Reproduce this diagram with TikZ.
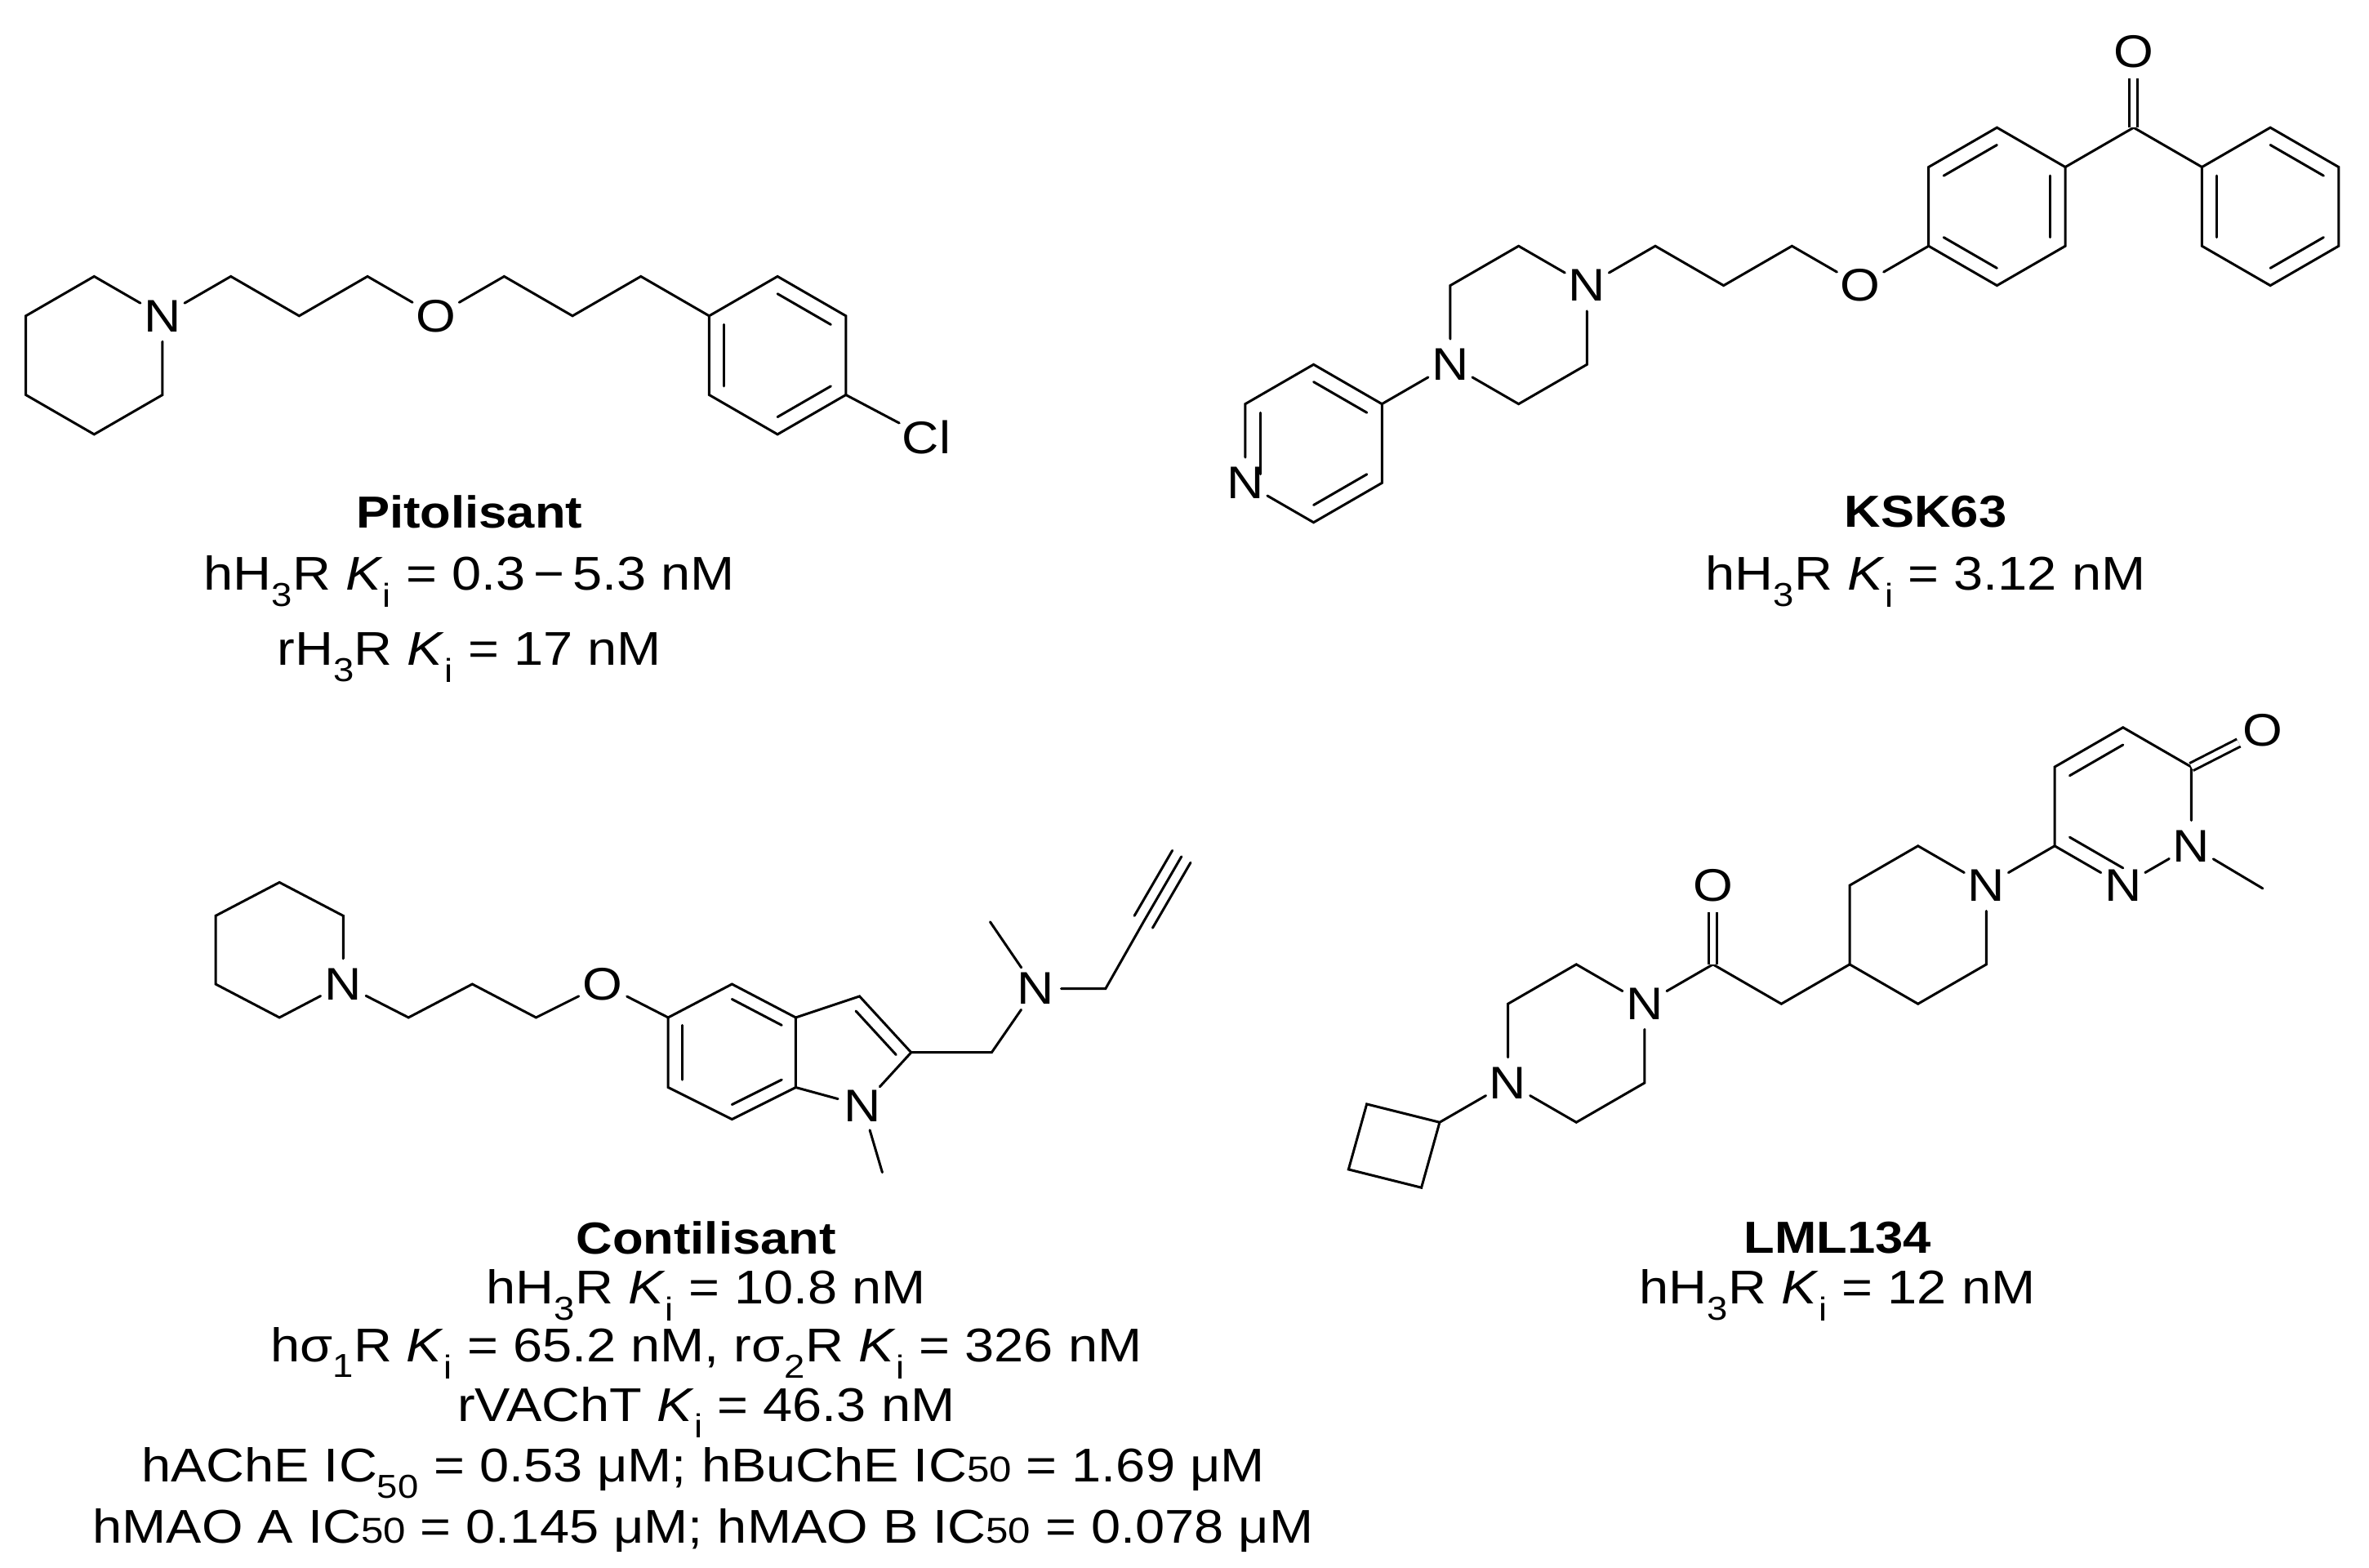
\documentclass[tikz,border=0pt]{standalone}
\usepackage{fontspec}
\setmainfont[FakeStretch=1.12]{Liberation Sans}
\usetikzlibrary{calc}
\tikzset{
  bond/.style={line width=3pt,line cap=round},
  atom/.style={circle,inner sep=1pt,font=\fontsize{56}{64}\selectfont},
  lbl/.style={align=center,font=\fontsize{58}{66}\selectfont},
  ttl/.style={font=\fontsize{55}{64}\selectfont\bfseries},
  dblo/.style={line width=3pt,double distance=7pt}
}
\newcommand\dbl[3]{\draw[bond] ($(#1)!0.22!(#3)$) -- ($(#2)!0.22!(#3)$);}
\newcommand\Ki{\textit{K}\textsubscript{i}}
\newcommand\sm[1]{{\fontsize{44}{50}\selectfont #1}}
\begin{document}
\begin{tikzpicture}[x=1.86pt,y=-1.86pt]
\useasboundingbox (0,0) rectangle (1560,1032);
\fill[white] (0,0) rectangle (1560,1032);
%% Pitolisant
\node[atom] (pN) at (107,208) {N};
\coordinate (p1) at (107,260); \coordinate (p2) at (62,286); \coordinate (p3) at (17,260);
\coordinate (p4) at (17,208); \coordinate (p5) at (62,182);
\coordinate (c1) at (152,182); \coordinate (c2) at (197,208); \coordinate (c3) at (242,182);
\node[atom] (pO) at (287,208) {O};
\coordinate (c4) at (332,182); \coordinate (c5) at (377,208); \coordinate (c6) at (422,182);
\coordinate (r1) at (467,208); \coordinate (r2) at (512,182); \coordinate (r3) at (557,208);
\coordinate (r4) at (557,260); \coordinate (r5) at (512,286); \coordinate (r6) at (467,260);
\coordinate (rc) at (512,234);
\node[atom] (pCl) at (610,288) {Cl};
\draw[bond] (pN) -- (p1) -- (p2) -- (p3) -- (p4) -- (p5) -- (pN);
\draw[bond] (pN) -- (c1) -- (c2) -- (c3) -- (pO) -- (c4) -- (c5) -- (c6) -- (r1);
\draw[bond] (r1) -- (r2) -- (r3) -- (r4) -- (r5) -- (r6) -- cycle;
\draw[bond] (r4) -- (pCl);
\dbl{r2}{r3}{rc} \dbl{r1}{r6}{rc} \dbl{r4}{r5}{rc}
\node[ttl] (tP) at (309,337) {Pitolisant};
\node[lbl] (tP2) at (309,383) {hH\textsubscript{3}R \Ki{} = 0.3\,−\,5.3 nM};
\node[lbl] (tP3) at (309,433) {rH\textsubscript{3}R \Ki{} = 17 nM};
%% KSK63
\node[atom] (kN1) at (1045,188) {N};
\coordinate (k1) at (1045,240); \coordinate (k2) at (1000,266);
\node[atom] (kN4) at (955,240) {N};
\coordinate (k3) at (955,188); \coordinate (k4) at (1000,162);
\coordinate (y1) at (910,266); \coordinate (y2) at (865,240); \coordinate (y3) at (820,266);
\node[atom] (yN) at (820,318) {N};
\coordinate (y5) at (865,344); \coordinate (y6) at (910,318); \coordinate (yc) at (865,292);
\coordinate (kc1) at (1090,162); \coordinate (kc2) at (1135,188); \coordinate (kc3) at (1180,162);
\node[atom] (kO) at (1225,188) {O};
\coordinate (m1) at (1270,162); \coordinate (m2) at (1270,110); \coordinate (m3) at (1315,84);
\coordinate (m4) at (1360,110); \coordinate (m5) at (1360,162); \coordinate (m6) at (1315,188);
\coordinate (mc) at (1315,136);
\coordinate (kco) at (1405,84);
\node[atom] (kOx) at (1405,34) {O};
\coordinate (b1) at (1450,110); \coordinate (b2) at (1495,84); \coordinate (b3) at (1540,110);
\coordinate (b4) at (1540,162); \coordinate (b5) at (1495,188); \coordinate (b6) at (1450,162);
\coordinate (bc) at (1495,136);
\draw[bond] (kN1) -- (k1) -- (k2) -- (kN4) -- (k3) -- (k4) -- (kN1);
\draw[bond] (kN4) -- (y1) -- (y2) -- (y3) -- (yN) -- (y5) -- (y6) -- (y1);
\dbl{y2}{y1}{yc} \dbl{y3}{yN}{yc} \dbl{y5}{y6}{yc}
\draw[bond] (kN1) -- (kc1) -- (kc2) -- (kc3) -- (kO) -- (m1);
\draw[bond] (m1) -- (m2) -- (m3) -- (m4) -- (m5) -- (m6) -- cycle;
\dbl{m2}{m3}{mc} \dbl{m4}{m5}{mc} \dbl{m6}{m1}{mc}
\draw[bond] (m4) -- (kco) -- (b1);
\draw[dblo] (kco) -- (kOx);
\draw[bond] (b1) -- (b2) -- (b3) -- (b4) -- (b5) -- (b6) -- cycle;
\dbl{b2}{b3}{bc} \dbl{b4}{b5}{bc} \dbl{b6}{b1}{bc}
\node[ttl] (tK) at (1268,337) {KSK63};
\node[lbl] (tK2) at (1268,383) {hH\textsubscript{3}R \Ki{} = 3.12 nM};
%% Contilisant
\node[atom] (cN) at (226,648) {N};
\coordinate (q1) at (226,603); \coordinate (q2) at (184,581); \coordinate (q3) at (142,603);
\coordinate (q4) at (142,648); \coordinate (q5) at (184,670);
\coordinate (d1) at (269,670); \coordinate (d2) at (311,648); \coordinate (d3) at (353,670);
\node[atom] (cO) at (397,648) {O};
\coordinate (i5) at (440,670); \coordinate (i4) at (482,648); \coordinate (i3a) at (524,670);
\coordinate (i7a) at (524,716); \coordinate (i7) at (482,737); \coordinate (i6) at (440,716);
\coordinate (ic) at (482,693);
\coordinate (i3) at (566,656); \coordinate (i2) at (600,693);
\node[atom] (iN) at (568,728) {N};
\coordinate (iMe) at (581,772);
\coordinate (e1) at (653,693);
\node[atom] (eN) at (682,651) {N};
\coordinate (eMe) at (652,607); \coordinate (e2) at (728,651);
\coordinate (ea) at (753,607); \coordinate (eb) at (778,564);
\draw[bond] (cN) -- (q1) -- (q2) -- (q3) -- (q4) -- (q5) -- (cN);
\draw[bond] (cN) -- (d1) -- (d2) -- (d3) -- (cO) -- (i5);
\draw[bond] (i5) -- (i4) -- (i3a) -- (i7a) -- (i7) -- (i6) -- cycle;
\dbl{i4}{i3a}{ic} \dbl{i5}{i6}{ic} \dbl{i7}{i7a}{ic}
\draw[bond] (i3a) -- (i3) -- (i2) -- (iN) -- (i7a);
\coordinate (pc) at (555,700);
\dbl{i3}{i2}{pc}
\draw[bond] (iN) -- (iMe);
\draw[bond] (i2) -- (e1) -- (eN) -- (e2) -- (ea) -- (eb);
\draw[bond] (eN) -- (eMe);
\draw[bond] ($(ea)+(-6,-4)$) -- ($(eb)+(-6,-4)$);
\draw[bond] ($(ea)+(6,4)$) -- ($(eb)+(6,4)$);
\node[ttl] (tC) at (465,815) {Contilisant};
\node[lbl] (tC2) at (465,853) {hH\textsubscript{3}R \Ki{} = 10.8 nM};
\node[lbl] (tC3) at (465,891) {hσ\textsubscript{1}R \Ki{} = 65.2 nM, rσ\textsubscript{2}R \Ki{} = 326 nM};
\node[lbl] (tC4) at (465,930) {rVAChT \Ki{} = 46.3 nM};
\node[lbl] (tC5) at (463,970) {hAChE IC\textsubscript{50} = 0.53 μM; hBuChE IC\sm{50} = 1.69 μM};
\node[lbl] (tC6) at (463,1008) {hMAO A IC\sm{50} = 0.145 μM; hMAO B IC\sm{50} = 0.078 μM};
%% LML134
\node[atom] (lN4) at (993,713) {N};
\coordinate (l1) at (993,661); \coordinate (l2) at (1038,635);
\node[atom] (lN1) at (1083,661) {N};
\coordinate (l3) at (1083,713); \coordinate (l4) at (1038,739);
\coordinate (cb1) at (948,739); \coordinate (cb2) at (900,727); \coordinate (cb3) at (888,770); \coordinate (cb4) at (936,782);
\coordinate (lco) at (1128,635);
\node[atom] (lO) at (1128,583) {O};
\coordinate (lch) at (1173,661);
\coordinate (s4) at (1218,635); \coordinate (s3) at (1218,583); \coordinate (s2) at (1263,557);
\node[atom] (sN) at (1308,583) {N};
\coordinate (s6) at (1308,635); \coordinate (s5) at (1263,661);
\coordinate (z6) at (1353,557); \coordinate (z5) at (1353,505); \coordinate (z4) at (1398,479);
\coordinate (z3) at (1443,505);
\node[atom] (zN2) at (1443,557) {N};
\node[atom] (zN1) at (1398,583) {N};
\node[atom] (zO) at (1490,481) {O};
\coordinate (zMe) at (1490,585);
\coordinate (zc) at (1398,531);
\draw[bond] (lN4) -- (l1) -- (l2) -- (lN1) -- (l3) -- (l4) -- (lN4);
\draw[bond] (lN4) -- (cb1) -- (cb2) -- (cb3) -- (cb4) -- (cb1);
\draw[bond] (lN1) -- (lco) -- (lch) -- (s4);
\draw[dblo] (lco) -- (lO);
\draw[bond] (s4) -- (s3) -- (s2) -- (sN) -- (s6) -- (s5) -- (s4);
\draw[bond] (sN) -- (z6) -- (z5) -- (z4) -- (z3) -- (zN2) -- (zN1) -- (z6);
\dbl{z5}{z4}{zc}
\draw[bond] ($(z6)!0.22!(zc)$) -- ($(zN1)!0.22!(zc)$);
\draw[dblo] (z3) -- (zO);
\draw[bond] (zN2) -- (zMe);
\node[ttl] (tL) at (1210,815) {LML134};
\node[lbl] (tL2) at (1210,853) {hH\textsubscript{3}R \Ki{} = 12 nM};
\end{tikzpicture}
\end{document}
